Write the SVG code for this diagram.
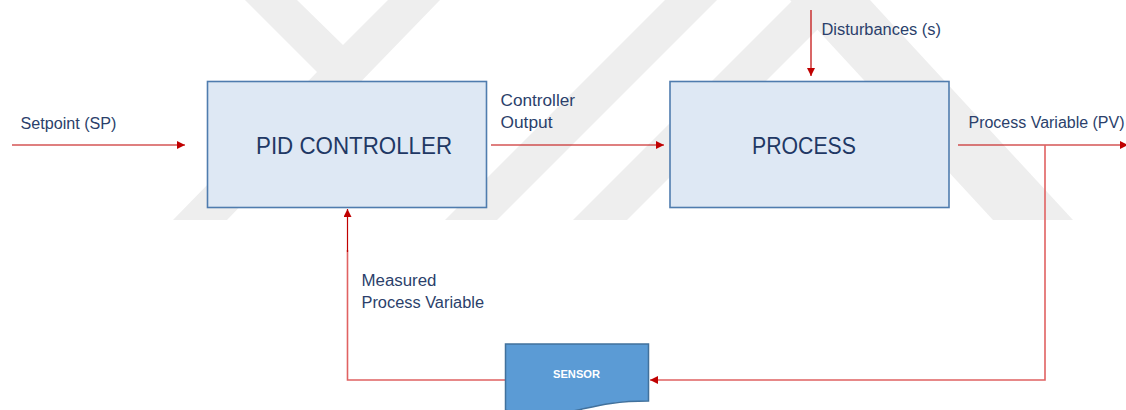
<svg xmlns="http://www.w3.org/2000/svg" width="1126" height="410" viewBox="0 0 1126 410">
  <defs>
    <style>
      .wm { fill: #eeeeee; }
      .box { fill: #dee8f4; stroke: #4f7cae; stroke-width: 1.6; }
      .title { font-family: "Liberation Sans", Arial, sans-serif; font-size: 24px; fill: #1f3864; }
      .lbl { font-family: "Liberation Sans", Arial, sans-serif; font-size: 16px; fill: #2b3f6b; }
      .wire { fill: none; stroke: #c00000; stroke-width: 1.2; }
      .feed { fill: none; stroke: #e06262; stroke-width: 1.6; }
      .sensor { fill: #5b9bd5; stroke: #41719c; stroke-width: 1.5; }
      .stxt { font-family: "Liberation Sans", Arial, sans-serif; font-size: 11.5px; font-weight: bold; fill: #ffffff; }
    </style>
    <marker id="arrow" viewBox="0 0 10 10" refX="10" refY="5" markerWidth="9" markerHeight="8" markerUnits="userSpaceOnUse" orient="auto">
      <path d="M0,0 L10,5 L0,10 Z" fill="#c00000"/>
    </marker>
  </defs>

  <rect width="1126" height="410" fill="#ffffff"/>

  <!-- faint background emblem -->
  <g id="emblem">
    <polygon class="wm" points="245,0 297,0 343,45 388,0 440,0 227,220 173,220 317,72"/>
    <polygon class="wm" points="665,0 717,0 497,220 445,220"/>
    <polygon class="wm" points="793,0 847,0 627,220 573,220"/>
    <polygon class="wm" points="790,0 870,0 1073,220 993,220"/>
  </g>

  <!-- connectors -->
  <g id="connectors">
    <line class="wire" x1="12" y1="145" x2="185" y2="145" marker-end="url(#arrow)"/>
    <line class="wire" x1="491" y1="145" x2="664" y2="145" marker-end="url(#arrow)"/>
    <line class="wire" x1="811" y1="10" x2="811" y2="76" marker-end="url(#arrow)"/>
    <line class="wire" x1="958" y1="145" x2="1128" y2="145" marker-end="url(#arrow)"/>
    <polyline class="feed" points="1045,145 1045,380 650,380" marker-end="url(#arrow)"/>
    <polyline class="feed" points="505,380 347.5,380 347.5,250"/>
    <line class="wire" x1="347.5" y1="252" x2="347.5" y2="209" marker-end="url(#arrow)"/>
  </g>

  <!-- connector labels -->
  <g id="labels">
    <text class="lbl" x="20.5" y="129" textLength="96" lengthAdjust="spacingAndGlyphs">Setpoint (SP)</text>
    <text class="lbl" x="500.5" y="106" textLength="74.5" lengthAdjust="spacingAndGlyphs">Controller</text>
    <text class="lbl" x="500.5" y="128" textLength="52" lengthAdjust="spacingAndGlyphs">Output</text>
    <text class="lbl" x="821.5" y="34.5" textLength="119.5" lengthAdjust="spacingAndGlyphs">Disturbances (s)</text>
    <text class="lbl" x="968.5" y="127.5" textLength="156" lengthAdjust="spacingAndGlyphs">Process Variable (PV)</text>
    <text class="lbl" x="361.5" y="286" textLength="75" lengthAdjust="spacingAndGlyphs">Measured</text>
    <text class="lbl" x="361.5" y="307.5" textLength="122.5" lengthAdjust="spacingAndGlyphs">Process Variable</text>
  </g>

  <g id="pid-controller">
    <rect class="box" x="207.5" y="81.5" width="279" height="126"/>
    <text class="title" x="256" y="154" textLength="196" lengthAdjust="spacingAndGlyphs">PID CONTROLLER</text>
  </g>

  <g id="process">
    <rect class="box" x="670" y="81.5" width="279" height="126"/>
    <text class="title" x="752" y="154" textLength="104" lengthAdjust="spacingAndGlyphs">PROCESS</text>
  </g>

  <g id="sensor">
    <path class="sensor" d="M505.5,344 L648.5,344 L648.5,401 C577,401 577,422.6 505.5,410.3 Z"/>
    <text class="stxt" x="553" y="377.7" textLength="47" lengthAdjust="spacingAndGlyphs">SENSOR</text>
  </g>
</svg>
